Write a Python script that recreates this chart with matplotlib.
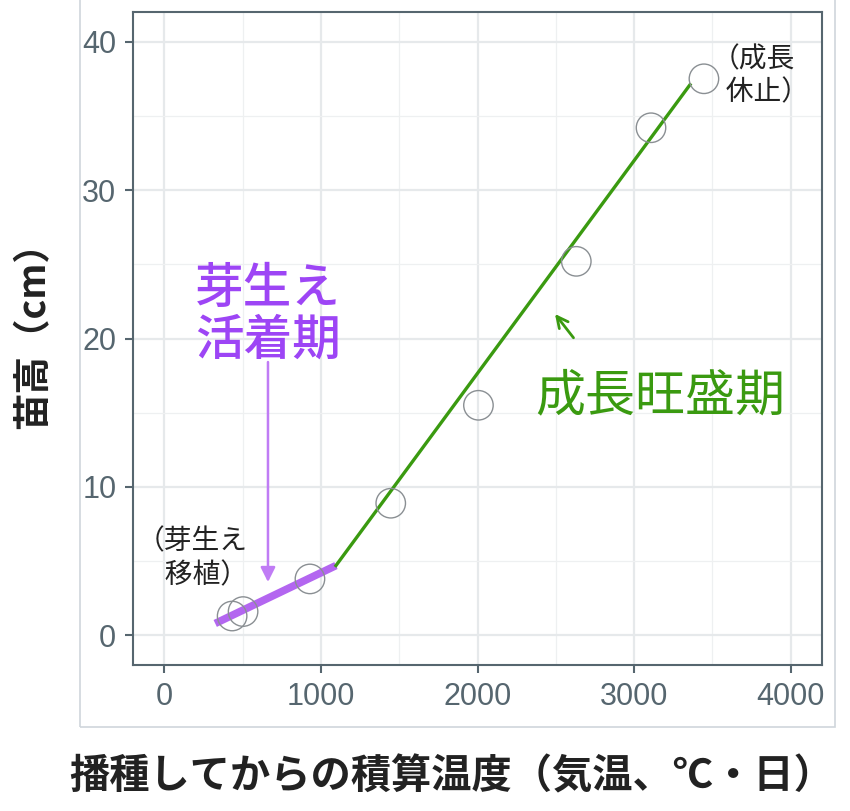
import matplotlib
matplotlib.use('Agg')
import matplotlib.pyplot as plt
from matplotlib.patches import Rectangle

plt.rcParams['font.family'] = ['Noto Sans CJK JP', 'DejaVu Sans']

# observed points (accumulated temp, plant height)
temp = [433, 503, 930, 1446, 2006, 2631, 3108, 3446]
height = [1.3, 1.6, 3.8, 8.9, 15.5, 25.2, 34.2, 37.5]

# fitted segments
early_x = [325, 1096]
early_y = [0.8, 4.7]
grow_x = [1096, 3357]
grow_y = [4.7, 37.1]

xticks = [0, 1000, 2000, 3000, 4000]
yticks = [0, 10, 20, 30, 40]

purple = '#9d45f5'
green = '#3a9a10'
axcol = '#56666f'

fig = plt.figure(figsize=(8.5, 8.11), dpi=100)
ax = fig.add_axes([133/850, 1-665/811, (822-133)/850, (665-12)/811])

# outer light frame
fig.patches.append(Rectangle((80/850, 1-727/811), (835-80)/850, 727/811 + 0.01,
                             transform=fig.transFigure, fill=False,
                             edgecolor='#cfd6db', lw=1.2))

ax.set_xlim(-200, 4200)
ax.set_ylim(-2, 42)
ax.set_xticks(xticks)
ax.set_yticks(yticks)
ax.set_xticks([500, 1500, 2500, 3500], minor=True)
ax.set_yticks([5, 15, 25, 35], minor=True)
ax.grid(which='major', color='#e6e9eb', lw=1.6)
ax.grid(which='minor', color='#eef0f1', lw=0.9)
ax.set_axisbelow(True)
ax.tick_params(which='major', labelsize=22, colors=axcol, length=6, width=1.5, pad=6)
ax.tick_params(which='minor', length=0)
for lab in ax.get_xticklabels() + ax.get_yticklabels():
    lab.set_family('Liberation Sans')
for s in ax.spines.values():
    s.set_color(axcol)
    s.set_linewidth(1.5)

ax.plot(early_x, early_y, color='#b366f0', lw=5.5, solid_capstyle='butt', zorder=3)
ax.plot(grow_x, grow_y, color=green, lw=2.4, zorder=3)
ax.scatter(temp, height, s=450, facecolors='none', edgecolors='#8a8f93', lw=1.0, zorder=4)

ax.text(663, 21.6, '芽生え\n活着期', color=purple, fontsize=35, fontweight='medium',
        ha='center', va='center', linespacing=1.05)
ax.annotate('', xy=(662, 3.4), xytext=(662, 18.6),
            arrowprops=dict(arrowstyle='-|>', color='#c07cf5', lw=1.8, mutation_scale=22))

ax.text(3170, 16.1, '成長旺盛期', color=green, fontsize=36, ha='center', va='center')
ax.annotate('', xy=(2484, 21.8), xytext=(2624, 19.9),
            arrowprops=dict(arrowstyle='->', color=green, lw=2, mutation_scale=20))

ax.text(180, 5.2, '（芽生え\n　移植）', color='#222222', fontsize=20, ha='center', va='center',
        linespacing=1.15)
ax.text(3760, 37.7, '（成長\n　休止）', color='#222222', fontsize=20, ha='center', va='center',
        linespacing=1.15)

ax.set_ylabel('苗高（cm）', fontsize=27, fontweight='bold', color='#222222')
ax.yaxis.set_label_coords(-0.117, 0.519)
ax.set_xlabel('播種してからの積算温度（気温、℃・日）', fontsize=29, fontweight='bold',
              color='#222222')
ax.xaxis.set_label_coords(0.463, -0.14)

fig.savefig('out.png', dpi=100)
